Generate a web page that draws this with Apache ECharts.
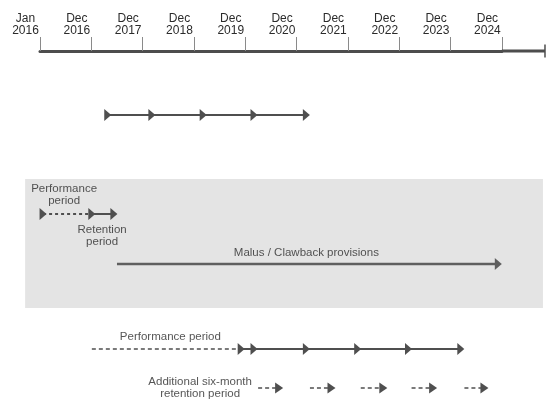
<!DOCTYPE html>
<html>
<head>
<meta charset="utf-8">
<script src="https://cdn.jsdelivr.net/npm/echarts@6/dist/echarts.min.js"></script>
<style>
  html, body { margin: 0; padding: 0; background: #fff; }
  #timeline { width: 546px; height: 400px; }
</style>
</head>
<body>
<div id="timeline"></div>
<script>
// timeline positions: 0 = Jan 2016, 1 = Dec 2016, ... 9 = Dec 2024
const tickLabels = ['Jan\n2016', 'Dec\n2016', 'Dec\n2017', 'Dec\n2018', 'Dec\n2019',
  'Dec\n2020', 'Dec\n2021', 'Dec\n2022', 'Dec\n2023', 'Dec\n2024'];
const timelineEnd = 9.84;

const vestingTop = [1.32, 2.18, 3.18, 4.17, 5.19];
const perfPeriodBox = [0.06, 1.01];
const retentionBox = [1.01, 1.44];
const malusClawback = [1.5, 8.93];
const perfPeriodLong = [1.01, 3.92];
const vestingLong = [3.92, 4.17, 5.19, 6.19, 7.18, 8.20];
const extraRetention = [[4.25, 4.66], [5.26, 5.68], [6.25, 6.69], [7.24, 7.66], [8.27, 8.66]];
const boxSpan = [-0.29, 9.80];

const noteTexts = ['Performance\nperiod', 'Retention\nperiod', 'Malus / Clawback provisions',
  'Performance period', 'Additional six-month\nretention period'];
const noteX = [0.47, 1.21, 5.19, 2.54, 3.12];

// layout (pixel rows, y axis of the lower grid runs 0..400 top-down)
const rowY = { axis: 51, top: 115, box: 214, malus: 264, long: 349, extra: 388 };
const noteY = [195, 236, 252.5, 337, 388];
const boxY = [179, 308];

const font = "'Liberation Sans', Arial, sans-serif";
const ink = '#4f4f4f';
const textInk = '#2b2b2b';
const arrow = 'path://M0,0L10,6L0,12Z';
const PX = 51.32;
const lastTick = tickLabels.length - 1;

function pts(xs, y, skipFirst) {
  return xs.map((x, i) => (skipFirst && i === 0) ? { value: [x, y], symbol: 'none' } : [x, y]);
}
function lineSeries(data, dashed, extra) {
  return Object.assign({
    type: 'line', xAxisIndex: 1, yAxisIndex: 1, data: data,
    symbol: arrow, symbolSize: [7, 12], symbolKeepAspect: false,
    itemStyle: { color: ink }, lineStyle: { color: ink, width: 2, type: dashed ? [3, 3] : 'solid' },
    animation: false, silent: true, z: 3
  }, extra || {});
}

let extraData = [];
extraRetention.forEach(seg => {
  extraData.push({ value: [seg[0], rowY.extra], symbol: 'none' });
  extraData.push([seg[1], rowY.extra]);
  extraData.push('-');
});

const option = {
  backgroundColor: '#fff',
  textStyle: { fontFamily: font },
  grid: [
    { left: 40, width: lastTick * PX, top: rowY.axis, height: 20 },
    { left: 0, right: 0, top: 0, bottom: 0 }
  ],
  xAxis: [
    {
      gridIndex: 0, type: 'value', position: 'top', min: 0, max: lastTick, interval: 1,
      axisLine: { onZero: false, lineStyle: { color: '#4d4d4d', width: 3 } },
      axisTick: { length: 14, lineStyle: { color: '#8a8a8a', width: 1 } },
      axisLabel: {
        showMinLabel: true, showMaxLabel: true, hideOverlap: false,
        formatter: v => tickLabels[Math.round(v)].split('\n').map(s => '{a|' + s + '}').join('\n'),
        align: 'right', margin: 14,
        rich: { a: { width: 29, align: 'center', color: textInk, fontSize: 12, lineHeight: 12, fontFamily: font } }
      },
      splitLine: { show: false }
    },
    { gridIndex: 1, type: 'value', min: -40 / PX, max: 506 / PX, show: false }
  ],
  yAxis: [
    { gridIndex: 0, type: 'value', show: false },
    { gridIndex: 1, type: 'value', min: 0, max: 400, inverse: true, show: false }
  ],
  series: [
    {
      // rest of the timeline after the last tick, with its end cap
      type: 'line', xAxisIndex: 1, yAxisIndex: 1, data: pts([lastTick, timelineEnd], rowY.axis, true),
      symbol: 'rect', symbolSize: [1.5, 13], itemStyle: { color: '#4d4d4d' },
      lineStyle: { color: '#4d4d4d', width: 3 }, silent: true, animation: false
    },
    lineSeries(pts(vestingTop, rowY.top), false),
    lineSeries(pts(perfPeriodBox, rowY.box), true),
    lineSeries(pts(retentionBox, rowY.box, true), false),
    lineSeries(pts(malusClawback, rowY.malus, true), false, {
      lineStyle: { color: '#5f5f5f', width: 2.5 },
      itemStyle: { color: '#5f5f5f' },
      markArea: {
        silent: true, z: 1,
        itemStyle: { color: '#e4e4e4' },
        data: [[{ coord: [boxSpan[0], boxY[0]] }, { coord: [boxSpan[1], boxY[1]] }]]
      }
    }),
    lineSeries(pts(perfPeriodLong, rowY.long, true), true, { lineStyle: { color: ink, width: 1.6, type: [4, 3] } }),
    lineSeries(pts(vestingLong, rowY.long, true), false),
    lineSeries(extraData, true, { symbolSize: [8, 11], connectNulls: false, lineStyle: { color: ink, width: 1.6, type: [4, 3] } }),
    {
      type: 'scatter', xAxisIndex: 1, yAxisIndex: 1, symbolSize: 0, silent: true, animation: false, z: 5,
      data: noteTexts.map((t, i) => ({ value: [noteX[i], noteY[i]], name: t })),
      label: {
        show: true, position: 'inside', formatter: p => p.name,
        color: textInk, fontSize: 11.5, lineHeight: 12.5, fontFamily: font, align: 'center', verticalAlign: 'middle'
      }
    }
  ]
};

const chart = echarts.init(document.getElementById('timeline'));
chart.setOption(option);
</script>
</body>
</html>
